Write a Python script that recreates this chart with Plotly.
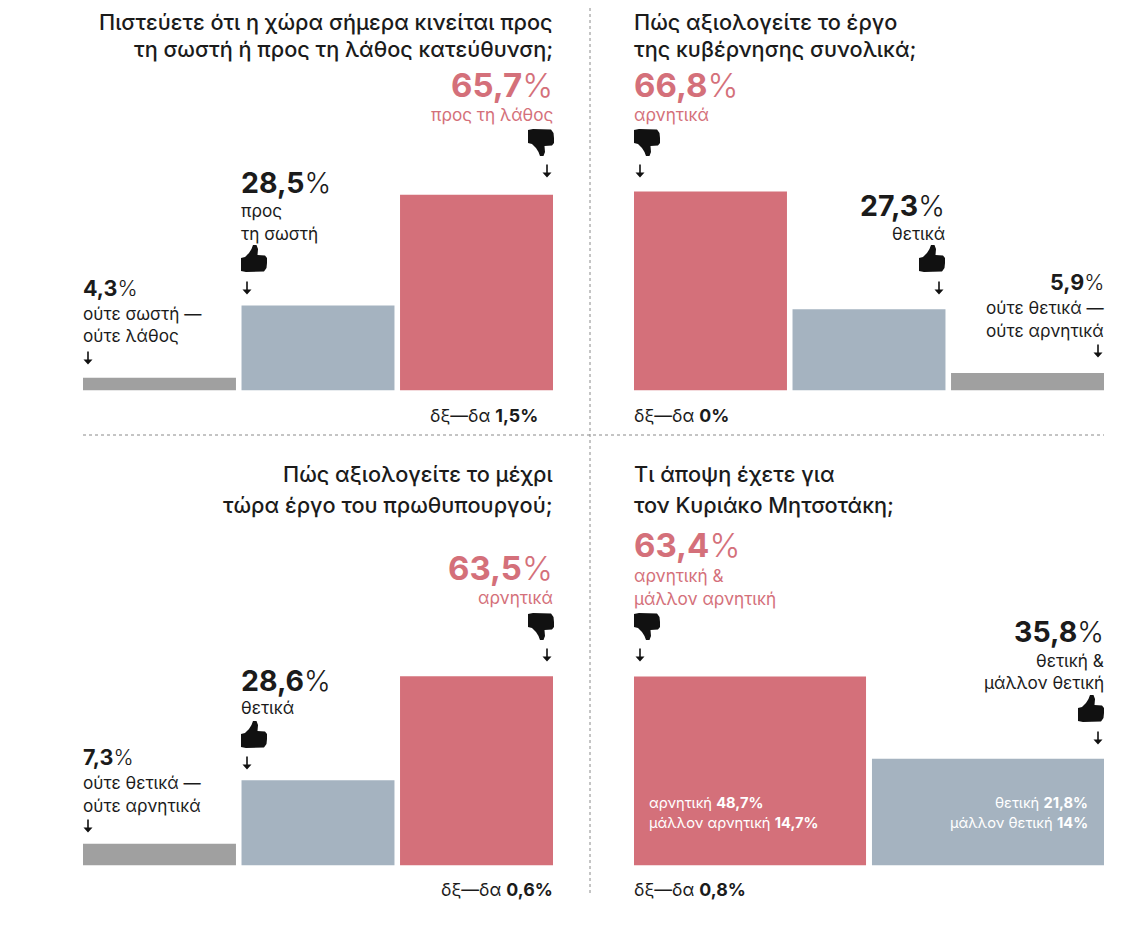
import plotly.graph_objects as go

W, H = 1130, 935
PAD = 8  # the page body keeps its default margin, so everything below sits 8px in
FONT = 'Inter'
RED, BLUE, GREY, INK = '#d4707a', '#a5b3c0', '#a0a0a0', '#1b1b1b'

# values
cats_dir = ['ούτε σωστή — ούτε λάθος', 'προς τη σωστή', 'προς τη λάθος']
vals_dir = [4.3, 28.5, 65.7]
cats_gov = ['αρνητικά', 'θετικά', 'ούτε θετικά — ούτε αρνητικά']
vals_gov = [66.8, 27.3, 5.9]
cats_pm = ['ούτε θετικά — ούτε αρνητικά', 'θετικά', 'αρνητικά']
vals_pm = [7.3, 28.6, 63.5]
cats_km = ['αρνητική & μάλλον αρνητική', 'θετική & μάλλον θετική']
vals_km = [63.4, 35.8]

PX_PER_PCT = 2.98


def fx(x):
  return (x - PAD) / (W - PAD)


def fy(y):
  return 1 - (y - PAD) / (H - PAD)


fig = go.Figure()

# one axis pair per panel: (values, cats, colours, left px, right px, baseline px, gap)
panels = [
  (vals_dir, cats_dir, [GREY, BLUE, RED], 83, 553, 390.5, 0.035),
  (vals_gov, cats_gov, [RED, BLUE, GREY], 634, 1104, 390.5, 0.035),
  (vals_pm, cats_pm, [GREY, BLUE, RED], 83, 553, 865.5, 0.035),
  (vals_km, cats_km, [RED, BLUE], 634, 1104, 865.5, 0.025),
]
axes = {}
for i, (vals, cats, colors, x0, x1, base, gap) in enumerate(panels, 1):
  top = base - 205
  fig.add_trace(go.Bar(
    x=list(range(len(vals))), y=vals, width=1 - gap, customdata=cats,
    marker=dict(color=colors, line_width=0), showlegend=False,
    hovertemplate='%{customdata}: %{y}%<extra></extra>',
    xaxis=f'x{i}', yaxis=f'y{i}',
  ))
  axes[f'xaxis{i}'] = dict(domain=[fx(x0), fx(x1)], anchor=f'y{i}', visible=False,
                           range=[-0.5 + gap / 2, len(vals) - 0.5 - gap / 2])
  axes[f'yaxis{i}'] = dict(domain=[fy(base), fy(top)], anchor=f'x{i}', visible=False,
                           range=[0, 205 / PX_PER_PCT])
fig.update_layout(**axes)


def label(x, y, text, anchor='left', size=17.2, color=INK, weight=None):
  font = dict(family=FONT, size=size, color=color)
  if weight:
    font['weight'] = weight
  fig.add_annotation(x=fx(x), y=fy(y), xref='paper', yref='paper', text=text, showarrow=False,
                     xanchor=anchor, yanchor='middle', align=anchor, font=font,
                     borderpad=0, borderwidth=0)


def pct(x, y, num, anchor='left', size=33, color=INK):
  label(x, y, f'<b>{num}</b>%', anchor, size, color, weight=300)


THUMB = [(0, 13), (4, 12), (8, 8), (10.5, 4), (12, 0), (15.5, 0), (17, 4), (16.5, 10), (24, 10.5), (26, 13),
         (26, 18), (25.5, 23), (23, 26.5), (5, 27), (0, 26)]
ARROW = [(-0.8, 0), (0.8, 0), (0.8, 8), (4.5, 8), (0, 13), (-4.5, 8), (-0.8, 8)]


def polygon(pts, color='#111'):
  path = 'M ' + ' L '.join(f'{fx(a):.5f} {fy(b):.5f}' for a, b in pts) + ' Z'
  fig.add_shape(type='path', path=path, xref='paper', yref='paper', fillcolor=color, line_width=0)


def thumb(x, y, down=False):
  # x, y = top left corner of the 26x27 icon
  polygon([(x + a, y + (27 - b if down else b)) for a, b in THUMB])


def arrow(x, y):
  polygon([(x + a, y - 6.5 + b) for a, b in ARROW])


TITLE = dict(size=21.7, weight=500)
MID = 28.5  # the middle-sized percentages
SMALL = 21.5
INNER = 14.7
DX = 17.8

# top left
label(553, 22, 'Πιστεύετε ότι η χώρα σήμερα κινείται προς', 'right', **TITLE)
label(553, 49, 'τη σωστή ή προς τη λάθος κατεύθυνση;', 'right', **TITLE)
pct(553, 85, '65,7', 'right', color=RED)
label(553, 114, 'προς τη λάθος', 'right', color=RED)
thumb(528, 129, down=True)
arrow(547, 171)
pct(241, 182, '28,5', size=MID)
label(241, 210, 'προς')
label(241, 233, 'τη σωστή')
thumb(241, 245)
arrow(247, 288)
pct(83, 288, '4,3', size=SMALL)
label(83, 313, 'ούτε σωστή —')
label(83, 336, 'ούτε λάθος')
arrow(88, 358)
label(430, 415, 'δξ—δα <b>1,5%</b>', size=DX)

# top right
label(634, 22, 'Πώς αξιολογείτε το έργο', **TITLE)
label(634, 49, 'της κυβέρνησης συνολικά;', **TITLE)
pct(634, 85, '66,8', color=RED)
label(634, 114, 'αρνητικά', color=RED)
thumb(634, 129, down=True)
arrow(640, 171)
pct(945, 205, '27,3', 'right', size=MID)
label(945, 233, 'θετικά', 'right')
thumb(919, 245)
arrow(939, 288)
pct(1104, 282, '5,9', 'right', size=SMALL)
label(1104, 307, 'ούτε θετικά —', 'right')
label(1104, 330, 'ούτε αρνητικά', 'right')
arrow(1098, 351)
label(634, 415, 'δξ—δα <b>0%</b>', size=DX)

# bottom left
label(553, 474, 'Πώς αξιολογείτε το μέχρι', 'right', **TITLE)
label(553, 505, 'τώρα έργο του πρωθυπουργού;', 'right', **TITLE)
pct(553, 568, '63,5', 'right', color=RED)
label(553, 597, 'αρνητικά', 'right', color=RED)
thumb(528, 613, down=True)
arrow(547, 655)
pct(241, 680, '28,6', size=MID)
label(241, 707, 'θετικά')
thumb(241, 721)
arrow(247, 763)
pct(83, 757, '7,3', size=SMALL)
label(83, 782, 'ούτε θετικά —')
label(83, 805, 'ούτε αρνητικά')
arrow(88, 826)
label(553, 889, 'δξ—δα <b>0,6%</b>', 'right', size=DX)

# bottom right
label(634, 474, 'Τι άποψη έχετε για', **TITLE)
label(634, 505, 'τον Κυριάκο Μητσοτάκη;', **TITLE)
pct(634, 545, '63,4', color=RED)
label(634, 575, 'αρνητική &', color=RED)
label(634, 598, 'μάλλον αρνητική', color=RED)
thumb(634, 613, down=True)
arrow(640, 655)
pct(1104, 631, '35,8', 'right', size=MID)
label(1104, 660, 'θετική &', 'right')
label(1104, 682, 'μάλλον θετική', 'right')
thumb(1078, 695)
arrow(1098, 738)
label(649, 803, 'αρνητική <b>48,7%</b>', size=INNER, color='white')
label(649, 823, 'μάλλον αρνητική <b>14,7%</b>', size=INNER, color='white')
label(1088, 803, 'θετική <b>21,8%</b>', 'right', size=INNER, color='white')
label(1088, 823, 'μάλλον θετική <b>14%</b>', 'right', size=INNER, color='white')
label(634, 889, 'δξ—δα <b>0,8%</b>', size=DX)

# dotted dividers
for x0, y0, x1, y1 in [(83, 435, 1104, 435), (590, 8, 590, 895)]:
  fig.add_shape(type='line', x0=fx(x0), y0=fy(y0), x1=fx(x1), y1=fy(y1), xref='paper', yref='paper',
                line=dict(color='#8a8a8a', width=1, dash='dot'))

fig.update_layout(width=W - PAD, height=H - PAD, margin=dict(l=0, r=0, t=0, b=0), autosize=False,
                  paper_bgcolor='white', plot_bgcolor='white', font=dict(family=FONT))
fig.write_html("out.html")
